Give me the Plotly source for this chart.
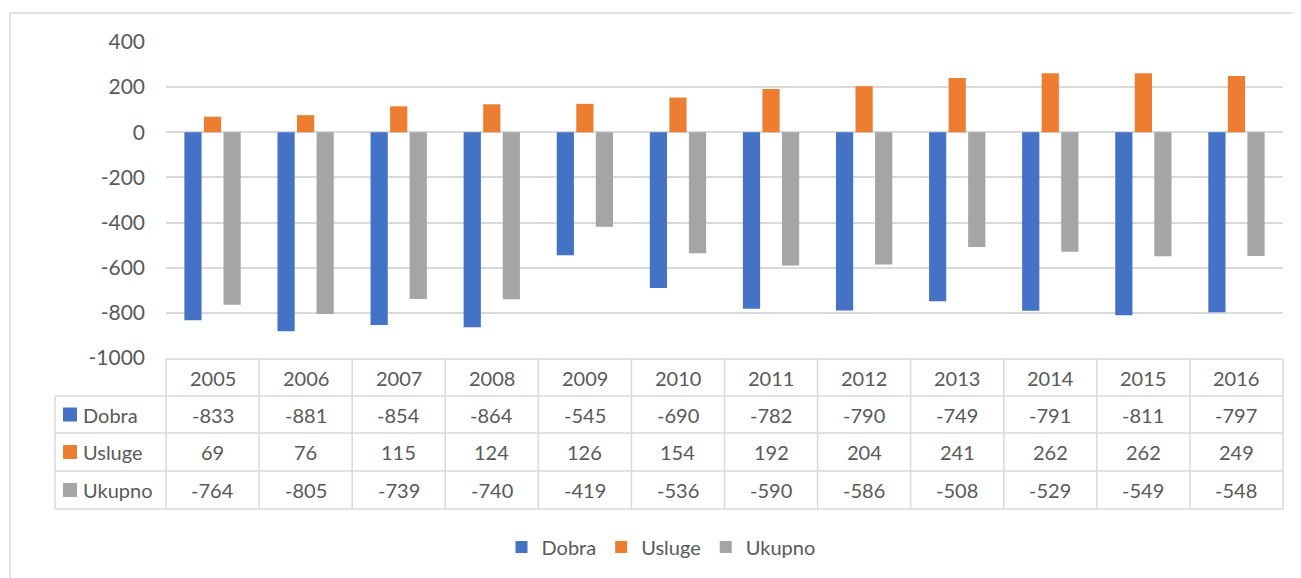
import plotly.graph_objects as go

years = ["2005", "2006", "2007", "2008", "2009", "2010", "2011", "2012", "2013", "2014", "2015", "2016"]
dobra = [-833, -881, -854, -864, -545, -690, -782, -790, -749, -791, -811, -797]
usluge = [69, 76, 115, 124, 126, 154, 192, 204, 241, 262, 262, 249]
ukupno = [-764, -805, -739, -740, -419, -536, -590, -586, -508, -529, -549, -548]
y_ticks = [400, 200, 0, -200, -400, -600, -800, -1000]
series = [("Dobra", dobra, "#4472C4"), ("Usluge", usluge, "#ED7D31"), ("Ukupno", ukupno, "#A5A5A5")]

OFF = 8  # page body margin
W, H = 1301 - OFF, 578 - OFF
L, R, T, B = 166 - OFF, 1283 - OFF, 42 - OFF, 358 - OFF
FONT = "Lato"
FS = 20
TXT = "#595959"
GRID = "#D9D9D9"


def px(x):
    return (x - OFF - L) / (R - L)


def py(y):
    return (B - (y - OFF)) / (B - T)


fig = go.Figure()
for name, vals, col in series:
    fig.add_trace(go.Bar(x=list(range(len(years))), y=vals, name=name, marker_color=col,
                         marker_line_width=0))

shapes = []
annotations = []
row_edges = [359, 396, 433, 471, 509]
ncol = len(years)
colw = (1283 - 166) / ncol
lw = 1.5
shapes.append(dict(type="line", xref="paper", yref="paper", x0=px(166), x1=px(1283),
                   y0=py(row_edges[0]), y1=py(row_edges[0]), line=dict(color=GRID, width=lw)))
for ye in row_edges[1:]:
    shapes.append(dict(type="line", xref="paper", yref="paper", x0=px(55), x1=px(1283),
                       y0=py(ye), y1=py(ye), line=dict(color=GRID, width=lw)))
shapes.append(dict(type="line", xref="paper", yref="paper", x0=px(55), x1=px(55),
                   y0=py(row_edges[1]), y1=py(row_edges[-1]), line=dict(color=GRID, width=lw)))
for i in range(ncol + 1):
    xx = 166 + i * colw
    shapes.append(dict(type="line", xref="paper", yref="paper", x0=px(xx), x1=px(xx),
                       y0=py(row_edges[0]), y1=py(row_edges[-1]), line=dict(color=GRID, width=lw)))
shapes.append(dict(type="rect", xref="paper", yref="paper", x0=px(10), x1=px(1320),
                   y0=py(600), y1=py(13), line=dict(color=GRID, width=lw)))

for i, yr in enumerate(years):
    annotations.append(dict(x=i, xref="x", y=py((row_edges[0] + row_edges[1]) / 2), yref="paper",
                            text=yr, showarrow=False, xanchor="center", yanchor="middle",
                            font=dict(family=FONT, size=FS, color=TXT)))
for r, (name, vals, col) in enumerate(series):
    yc_px = (row_edges[r + 1] + row_edges[r + 2]) / 2
    yc = py(yc_px)
    for i, v in enumerate(vals):
        annotations.append(dict(x=i, xref="x", y=yc, yref="paper", text=str(v), showarrow=False,
                                xanchor="center", yanchor="middle",
                                font=dict(family=FONT, size=FS, color=TXT)))
    shapes.append(dict(type="rect", xref="paper", yref="paper", x0=px(63), x1=px(77),
                       y0=py(yc_px + 7), y1=py(yc_px - 7), fillcolor=col, line=dict(width=0)))
    annotations.append(dict(x=px(81), xref="paper", y=yc, yref="paper", text=name, showarrow=False,
                            xanchor="left", yanchor="middle",
                            font=dict(family=FONT, size=FS, color=TXT)))

fig.update_layout(
    width=W, height=H,
    margin=dict(l=L, r=W - R, t=T, b=H - B),
    plot_bgcolor="white", paper_bgcolor="white",
    barmode="group", bargap=0.37, bargroupgap=0.12,
    font=dict(family=FONT, size=FS, color=TXT),
    xaxis=dict(range=[-0.5, ncol - 0.5], showticklabels=False, showgrid=False, zeroline=False,
               showline=False, fixedrange=True),
    yaxis=dict(range=[-1000, 400], tickvals=y_ticks, ticktext=[str(v) for v in y_ticks],
               showgrid=True, gridcolor=GRID, gridwidth=lw,
               zeroline=True, zerolinecolor=GRID, zerolinewidth=lw, showline=False,
               tickfont=dict(family=FONT, size=21, color=TXT), ticklabelstandoff=20),
    showlegend=True,
    legend=dict(orientation="h", x=px(661), xanchor="center", y=py(547), yanchor="middle",
                font=dict(family=FONT, size=FS, color=TXT), itemwidth=30, traceorder="normal"),
    shapes=shapes, annotations=annotations,
)

fig.write_html("out.html")
